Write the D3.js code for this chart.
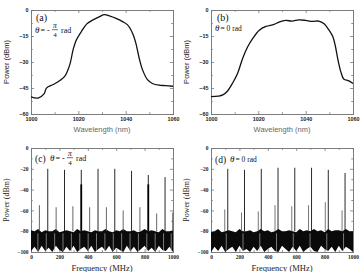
<!DOCTYPE html>
<html>
<head>
<meta charset="utf-8">
<script src="https://cdn.jsdelivr.net/npm/d3@7"></script>
<style>
body { margin: 0; background: #fff; }
</style>
</head>
<body>
<svg width="361" height="272"></svg>
<script>
// optical spectra (a) and (b)
var wlA = [1000, 1003, 1005.5, 1006.6, 1009.4, 1012.2, 1014.3, 1016.4, 1017.8, 1019.2, 1021.3, 1023.6, 1026.2, 1029, 1031, 1033.1, 1035.9, 1038.7, 1040.8, 1042.9, 1044.3, 1045.7, 1047.1, 1049.2, 1051.3, 1054.1, 1056.9, 1060];
var pwA = [-50.1, -50.8, -48.4, -44.9, -43, -40.7, -38.2, -31.5, -22.9, -17.2, -12.4, -8, -5.7, -3.8, -2.7, -3.4, -4.8, -6.7, -8.6, -13.4, -19.1, -27.7, -34.4, -40.2, -42.4, -43.4, -43.6, -44];
var wlB = [1000, 1003, 1005, 1007, 1009.2, 1011.3, 1013.4, 1015.5, 1017.6, 1020.4, 1023.2, 1026.6, 1028.7, 1031.5, 1034.3, 1037.1, 1039.9, 1042.7, 1045.5, 1047.8, 1049.9, 1051.5, 1052.6, 1053.5, 1054.8, 1056.2, 1058, 1060];
var pwB = [-50, -49.7, -49, -46.7, -42, -36.3, -27.8, -21.2, -16.5, -11.7, -9.5, -8.3, -7, -6, -6.4, -5.7, -6, -6.6, -6.4, -8, -11.7, -15.5, -21.2, -27.8, -35.4, -40, -40.7, -42.4];

// RF spectra (c) and (d)
var peakFreqC = [59, 118, 177, 236, 295, 354, 413, 472, 531, 590, 649, 708, 767, 826, 885, 944, 998];
var peakPowC = [-55, -20, -57, -21, -56, -21, -57, -20, -57, -20, -60, -22, -57, -26, -63, -28, -62];
var strongFreqC = [354, 826];
var strongPowC = [-35, -35];
var peakFreqD = [118, 236, 354, 472, 590, 708, 826, 944];
var peakPowD = [-20, -21, -20, -19, -19, -19, -21, -24];
var subPowD = [-59, -62, -61, -55, -56, -55, -52, -60];

var noiseFreq = [0, 25, 50, 75, 100, 125, 150, 175, 200, 225, 250, 275, 300, 325, 350, 375, 400, 425, 450, 475, 500, 525, 550, 575, 600, 625, 650, 675, 700, 725, 750, 775, 800, 825, 850, 875, 900, 925, 950, 975, 1000];
var noiseTopC = [-79, -80, -78, -81, -79, -80, -80, -78, -81, -80, -79, -80, -81, -78, -80, -79, -80, -81, -79, -80, -80, -78, -80, -81, -79, -80, -78, -80, -80, -79, -81, -80, -78, -80, -79, -80, -81, -78, -80, -80, -79];
var noiseBotC = [-99, -95, -100, -94, -99, -96, -100, -94, -98, -100, -95, -99, -94, -100, -97, -95, -99, -94, -100, -97, -95, -99, -94, -100, -96, -98, -100, -94, -99, -95, -100, -97, -94, -99, -96, -100, -94, -98, -99, -95, -100];
var noiseTopD = [-81, -80, -78, -81, -80, -79, -80, -81, -78, -80, -80, -79, -81, -80, -78, -80, -79, -81, -80, -78, -80, -80, -79, -80, -81, -78, -80, -79, -80, -78, -80, -79, -81, -78, -80, -79, -79, -80, -78, -80, -80];
var noiseBotD = [-100, -95, -99, -94, -100, -97, -95, -100, -94, -99, -97, -100, -95, -99, -94, -100, -97, -95, -99, -100, -94, -97, -100, -95, -99, -94, -100, -97, -95, -99, -100, -94, -97, -99, -95, -100, -94, -99, -95, -97, -100];

var wlTicks = [1000, 1020, 1040, 1060];
var dbTicksTop = [0, -15, -30, -45, -60];
var freqTicks = [0, 200, 400, 600, 800, 1000];
var dbTicksBottom = [0, -20, -40, -60, -80, -100];

var svg = d3.select("svg");

function frame(box, xDom, yDom, xTicks, xMinor, yTicks, yMinor, tickFont) {
  var g = svg.append("g");
  var x = d3.scaleLinear().domain(xDom).range([box.l, box.r]);
  var y = d3.scaleLinear().domain(yDom).range([box.b, box.t]);

  var axes = [
    [d3.axisBottom(x), xTicks, -3, "translate(0," + box.b + ")", 3.6],
    [d3.axisBottom(x), xMinor, -1.8, "translate(0," + box.b + ")", 0],
    [d3.axisTop(x), xTicks, -3, "translate(0," + box.t + ")", 0],
    [d3.axisTop(x), xMinor, -1.8, "translate(0," + box.t + ")", 0],
    [d3.axisLeft(y), yTicks, -3, "translate(" + box.l + ",0)", 2.5],
    [d3.axisLeft(y), yMinor, -1.8, "translate(" + box.l + ",0)", 0],
    [d3.axisRight(y), yTicks, -3, "translate(" + box.r + ",0)", 0],
    [d3.axisRight(y), yMinor, -1.8, "translate(" + box.r + ",0)", 0]
  ];
  axes.forEach(function (a) {
    var ax = a[0].tickValues(a[1]).tickSize(a[2]).tickPadding(a[4]).tickFormat(d3.format("d"));
    var ag = g.append("g").attr("transform", a[3]).call(ax);
    ag.select(".domain").attr("stroke", "#777").attr("stroke-width", 0.8);
    ag.selectAll(".tick line").attr("stroke", "#777").attr("stroke-width", 0.8);
    if (a[4] > 0) {
      ag.selectAll("text").attr("font-family", tickFont).attr("font-weight", "bold")
        .attr("font-size", 5.4).attr("fill", "#222");
    } else {
      ag.selectAll("text").remove();
    }
  });
  return { g: g, x: x, y: y };
}

function theta(x, y, frac) {
  var t = svg.append("g").attr("font-family", "Liberation Serif").attr("fill", "#111");
  t.append("text").attr("x", x).attr("y", y).attr("font-size", 9).attr("font-style", "italic").text("\u03b8");
  if (frac) {
    t.append("text").attr("x", x + 5.5).attr("y", y).attr("font-size", 8).text("= -");
    t.append("text").attr("x", x + 20).attr("y", y - 5).attr("font-size", 7.5).attr("font-style", "italic")
      .attr("text-anchor", "middle").text("\u03c0");
    t.append("line").attr("x1", x + 17).attr("x2", x + 23).attr("y1", y - 3.3).attr("y2", y - 3.3)
      .attr("stroke", "#111").attr("stroke-width", 0.6);
    t.append("text").attr("x", x + 20).attr("y", y + 3.6).attr("font-size", 7).attr("text-anchor", "middle").text("4");
    t.append("text").attr("x", x + 26).attr("y", y).attr("font-size", 8).text("rad");
  } else {
    t.append("text").attr("x", x + 5.5).attr("y", y).attr("font-size", 7.5).text("= 0 rad");
  }
}

function label(x, y, txt, size) {
  svg.append("text").attr("x", x).attr("y", y).attr("font-family", "Liberation Serif")
    .attr("font-size", size).attr("fill", "#111").text(txt);
}

var boxes = {
  a: { l: 31, r: 173, t: 10, b: 114 },
  b: { l: 211, r: 353, t: 10, b: 114 },
  c: { l: 31, r: 173, t: 148, b: 252 },
  d: { l: 211, r: 353, t: 148, b: 252 }
};

// top row
[["a", wlA, pwA], ["b", wlB, pwB]].forEach(function (p) {
  var box = boxes[p[0]];
  var f = frame(box, [1000, 1060], [-60, 0], wlTicks, [1010, 1030, 1050],
    dbTicksTop, [-7.5, -22.5, -37.5, -52.5], "Liberation Sans");
  var line = d3.line().x(function (d, i) { return f.x(p[1][i]); }).y(function (d) { return f.y(d); })
    .curve(d3.curveCatmullRom);
  f.g.append("path").datum(p[2]).attr("d", line).attr("fill", "none")
    .attr("stroke", "#111").attr("stroke-width", 1.3);
  svg.append("text").attr("transform", "translate(" + (box.l - 22) + "," + ((box.t + box.b) / 2) + ") rotate(-90)")
    .attr("text-anchor", "middle").attr("font-family", "Liberation Sans").attr("font-size", 7.5)
    .attr("fill", "#222").text("Power (dBm)");
  svg.append("text").attr("x", (box.l + box.r) / 2).attr("y", box.b + 18).attr("text-anchor", "middle")
    .attr("font-family", "Liberation Sans").attr("font-size", 7.5).attr("fill", "#666").text("Wavelength (nm)");
});

// bottom row
[["c", noiseTopC, noiseBotC], ["d", noiseTopD, noiseBotD]].forEach(function (p) {
  var box = boxes[p[0]];
  var f = frame(box, [0, 1000], [-100, 0], freqTicks, [100, 300, 500, 700, 900],
    dbTicksBottom, [-10, -30, -50, -70, -90], "Liberation Serif");
  var area = d3.area().x(function (d, i) { return f.x(noiseFreq[i]); })
    .y0(function (d, i) { return f.y(p[2][i]); }).y1(function (d) { return f.y(d); });
  f.g.append("path").datum(p[1]).attr("d", area).attr("fill", "#0a0a0a");
  var pf = p[0] == "c" ? peakFreqC : peakFreqD;
  var pp = p[0] == "c" ? peakPowC : peakPowD;
  // lighter streaks through the noise at each tone
  f.g.selectAll(".streak").data(pf).enter().append("line")
    .attr("x1", function (d) { return f.x(d) - 1.5; }).attr("x2", function (d) { return f.x(d) - 1.5; })
    .attr("y1", f.y(-82)).attr("y2", f.y(-99)).attr("stroke", "#aaa").attr("stroke-width", 0.7);
  f.g.selectAll(".peak").data(pf).enter().append("line")
    .attr("x1", function (d) { return f.x(d); }).attr("x2", function (d) { return f.x(d); })
    .attr("y1", f.y(-80)).attr("y2", function (d, i) { return f.y(pp[i]); })
    .attr("stroke", function (d, i) { return pp[i] > -40 ? "#111" : "#555"; })
    .attr("stroke-width", 0.9);
  if (p[0] == "c") {
    f.g.selectAll(".strong").data(strongFreqC).enter().append("line")
      .attr("x1", function (d) { return f.x(d); }).attr("x2", function (d) { return f.x(d); })
      .attr("y1", f.y(-80)).attr("y2", function (d, i) { return f.y(strongPowC[i]); })
      .attr("stroke", "#000").attr("stroke-width", 1.8);
  } else {
    f.g.selectAll(".sub").data(peakFreqD).enter().append("line")
      .attr("x1", function (d) { return f.x(d) - 3; }).attr("x2", function (d) { return f.x(d) - 3; })
      .attr("y1", f.y(-80)).attr("y2", function (d, i) { return f.y(subPowD[i]); })
      .attr("stroke", "#666").attr("stroke-width", 0.9);
  }
  svg.append("text").attr("transform", "translate(" + (box.l - 22) + "," + ((box.t + box.b) / 2) + ") rotate(-90)")
    .attr("text-anchor", "middle").attr("font-family", "Liberation Serif").attr("font-size", 8)
    .attr("fill", "#222").text("Power (dBm)");
  svg.append("text").attr("x", (box.l + box.r) / 2).attr("y", box.b + 19).attr("text-anchor", "middle")
    .attr("font-family", "Liberation Serif").attr("font-size", 8.5).attr("fill", "#222").text("Frequency (MHz)");
});

// panel annotations
label(36, 21, "(a)", 10);
theta(35, 33, true);
label(217, 21, "(b)", 10);
theta(215, 31, false);
label(35, 162, "(c)", 9.5);
theta(50, 161, true);
label(215, 163, "(d)", 9.5);
theta(230, 162, false);
</script>
</body>
</html>
